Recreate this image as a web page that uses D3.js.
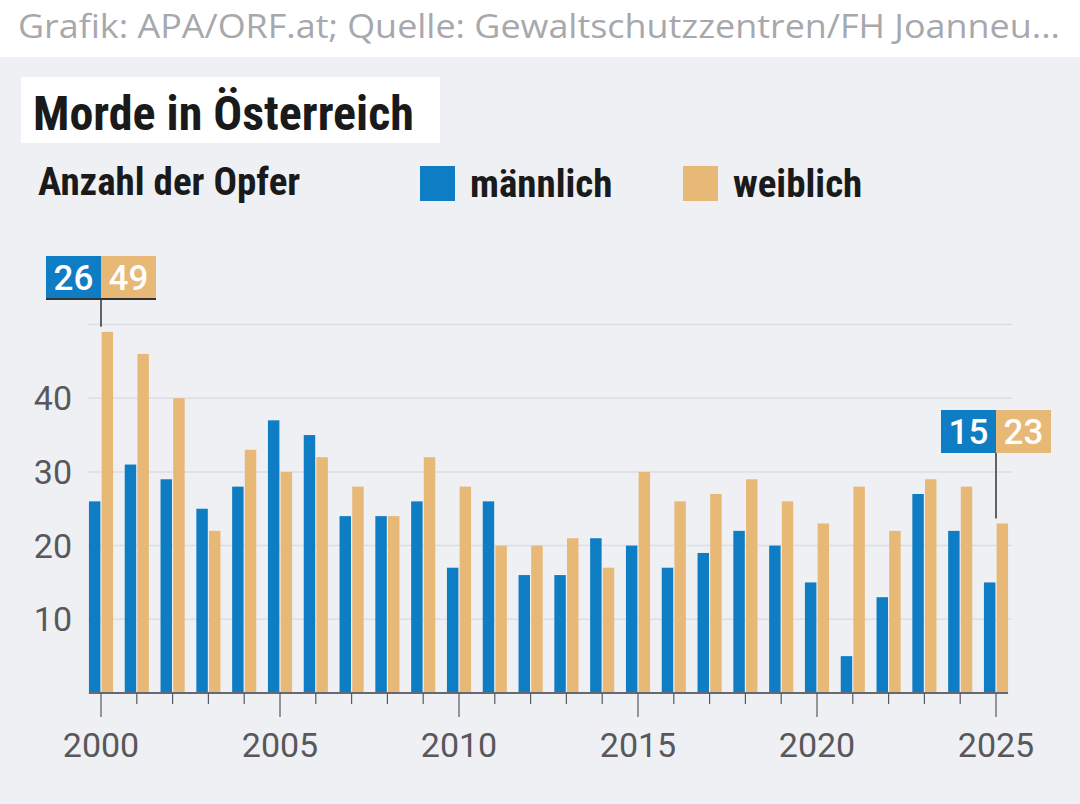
<!DOCTYPE html>
<html lang="de">
<head>
<meta charset="utf-8">
<title>Morde in Österreich</title>
<script src="https://d3js.org/d3.v7.min.js"></script>
<style>
  body { margin: 0; background: #eef0f4; }
  svg { display: block; }
  .src { font-family: "Open Sans", "Noto Sans", sans-serif; fill: #a7a8ad; }
  .hd { font-family: "Liberation Sans Narrow", "Roboto Condensed", Roboto, sans-serif; font-weight: bold; fill: #1a1a1a; }
  .tick-lab { font-family: Roboto, sans-serif; fill: #58585c; font-size: 34px; }
  .ann { font-family: Roboto, sans-serif; font-weight: 500; fill: #fff; font-size: 35px; }
</style>
</head>
<body>
<script>
// Daten: Anzahl der Mordopfer pro Jahr
var years = d3.range(2000, 2026);
var maennlich = [26, 31, 29, 25, 28, 37, 35, 24, 24, 26, 17, 26, 16, 16, 21, 20, 17, 19, 22, 20, 15, 5, 13, 27, 22, 15];
var weiblich  = [49, 46, 40, 22, 33, 30, 32, 28, 24, 32, 28, 20, 20, 21, 17, 30, 26, 27, 29, 26, 23, 28, 22, 29, 28, 23];
var yTicks = [10, 20, 30, 40, 50];
var xLabels = [2000, 2005, 2010, 2015, 2020, 2025];
var seriesNames = ["männlich", "weiblich"];

var colBlue = "#0f7dc3", colGold = "#e8b877";

var W = 1080, H = 804;
var svg = d3.select("body").append("svg").attr("width", W).attr("height", H);

// Kopfzeile weiss mit Quelle
svg.append("rect").attr("width", W).attr("height", 57).attr("fill", "#fff");
svg.append("rect").attr("y", 57).attr("width", W).attr("height", H - 57).attr("fill", "#eef0f4");
svg.append("text").attr("class", "src").attr("x", 18).attr("y", 38).style("font-size", "32px")
   .attr("textLength", 1042).attr("lengthAdjust", "spacingAndGlyphs")
   .text("Grafik: APA/ORF.at; Quelle: Gewaltschutzzentren/FH Joanneu...");

// Titel
svg.append("rect").attr("x", 21).attr("y", 77).attr("width", 419).attr("height", 66).attr("fill", "#fff");
svg.append("text").attr("class", "hd").attr("x", 33).attr("y", 130).style("font-size", "48px").text("Morde in Österreich");
svg.append("text").attr("class", "hd").attr("x", 38).attr("y", 195).style("font-size", "39px").text("Anzahl der Opfer");

// Legende
var leg = svg.append("g");
var legX = [420, 683];
seriesNames.forEach(function(n, i) {
    leg.append("rect").attr("x", legX[i]).attr("y", 166).attr("width", 35).attr("height", 35)
       .attr("fill", i == 0 ? colBlue : colGold);
    leg.append("text").attr("class", "hd").attr("x", legX[i] + 50).attr("y", 197)
       .style("font-size", "39px").text(n);
});

// Skalen
var x = d3.scaleLinear().domain([2000, 2025]).range([101, 996]);
var y = d3.scaleLinear().domain([0, 50]).range([693, 324.5]);
var step = x(2001) - x(2000);
var bw = step * 0.32;

// Gitterlinien
svg.append("g").selectAll("line").data(yTicks).enter().append("line")
   .attr("x1", 88).attr("x2", 1012)
   .attr("y1", function(d) { return y(d); }).attr("y2", function(d) { return y(d); })
   .attr("stroke", "#dcdee3").attr("stroke-width", 1.5);

svg.append("g").selectAll("text").data(yTicks.filter(function(d) { return d < 50; })).enter().append("text")
   .attr("class", "tick-lab").attr("x", 72).attr("y", function(d) { return y(d); })
   .attr("dy", "0.35em").attr("text-anchor", "end").text(function(d) { return d; });

// Balken
var gBars = svg.append("g");
gBars.selectAll(".m").data(maennlich).enter().append("rect").attr("class", "m")
   .attr("x", function(d, i) { return x(years[i]) - bw - 0.6; })
   .attr("y", function(d) { return y(d); })
   .attr("width", bw).attr("height", function(d) { return y(0) - y(d); })
   .attr("fill", colBlue);
gBars.selectAll(".w").data(weiblich).enter().append("rect").attr("class", "w")
   .attr("x", function(d, i) { return x(years[i]) + 0.6; })
   .attr("y", function(d) { return y(d); })
   .attr("width", bw).attr("height", function(d) { return y(0) - y(d); })
   .attr("fill", colGold);

// x-Achse
var gx = svg.append("g");
gx.append("line").attr("x1", x(2000) - bw - 0.6).attr("x2", x(2025) + bw + 0.6)
  .attr("y1", y(0)).attr("y2", y(0)).attr("stroke", "#666a70").attr("stroke-width", 2);
gx.selectAll(".tk").data(years).enter().append("line").attr("class", "tk")
  .attr("x1", function(d) { return x(d); }).attr("x2", function(d) { return x(d); })
  .attr("y1", y(0)).attr("y2", function(d) { return d % 5 == 0 ? 717 : 704; })
  .attr("stroke", "#555a60").attr("stroke-width", 1.2);
gx.selectAll(".tick-lab").data(xLabels).enter().append("text").attr("class", "tick-lab")
  .attr("x", function(d) { return x(d); }).attr("y", 757).attr("text-anchor", "middle")
  .text(function(d) { return d; });

// Beschriftungen erstes und letztes Jahr
function annot(i, boxTop, underline) {
    var cx = x(years[i]), hw = 55, bh = 43;
    var g = svg.append("g");
    g.append("line").attr("x1", cx).attr("x2", cx).attr("y1", boxTop + bh)
     .attr("y2", y(Math.max(maennlich[i], weiblich[i])) - 5)
     .attr("stroke", "#333").attr("stroke-width", 1.5);
    g.append("rect").attr("x", cx - hw).attr("y", boxTop).attr("width", hw).attr("height", bh).attr("fill", colBlue);
    g.append("rect").attr("x", cx).attr("y", boxTop).attr("width", hw).attr("height", bh).attr("fill", colGold);
    if (underline) {
        g.append("line").attr("x1", cx - hw).attr("x2", cx + hw).attr("y1", boxTop + bh).attr("y2", boxTop + bh)
         .attr("stroke", "#333").attr("stroke-width", 2);
    }
    g.append("text").attr("class", "ann").attr("x", cx - hw / 2).attr("y", boxTop + bh / 2).attr("dy", "0.36em")
     .attr("text-anchor", "middle").text(maennlich[i]);
    g.append("text").attr("class", "ann").attr("x", cx + hw / 2).attr("y", boxTop + bh / 2).attr("dy", "0.36em")
     .attr("text-anchor", "middle").text(weiblich[i]);
}
annot(0, 256, true);
annot(years.length - 1, 410, false);
</script>
</body>
</html>
